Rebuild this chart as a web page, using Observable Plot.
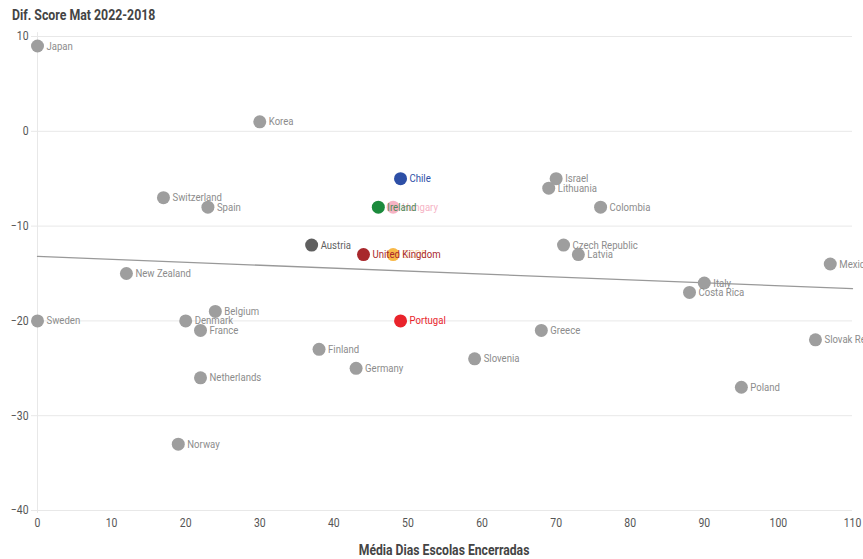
<!DOCTYPE html>
<html><head><meta charset="utf-8">
<script src="https://cdn.jsdelivr.net/npm/d3@7"></script>
<script src="https://cdn.jsdelivr.net/npm/@observablehq/plot@0.6"></script>
<style>
body{margin:0;background:#fff;width:863px;height:559px;overflow:hidden;font-family:"Roboto",sans-serif;position:relative;}
#title{position:absolute;left:12px;top:7px;font-weight:bold;font-size:14px;color:#444;transform:scaleX(0.88);transform-origin:0 0;white-space:nowrap;}
#xlabel{position:absolute;left:37px;width:815px;top:542px;text-align:center;font-weight:bold;font-size:14px;color:#444;}
#xlabel span{display:inline-block;transform:scaleX(0.87);}
#chart{position:absolute;left:0;top:0;}
</style></head><body>
<div id="chart"></div>
<div id="title">Dif. Score Mat 2022-2018</div>
<div id="xlabel"><span>Média Dias Escolas Encerradas</span></div>
<script>
const countries = ["Japan","Korea","Israel","Lithuania","Switzerland","Spain","Colombia","Czech Republic","Latvia","New Zealand","Mexico","Italy","Costa Rica","Sweden","Belgium","Denmark","France","Greece","Slovak Republic","Finland","Germany","Slovenia","Netherlands","Poland","Norway","Austria","Hungary","Ireland","OCDE","United Kingdom","Chile","Portugal"];
const days =      [0,30,70,69,17,23,76,71,73,12,107,90,88,0,24,20,22,68,105,38,43,59,22,95,19,37,48,46,48,44,49,49];
const scoreDiff = [9,1,-5,-6,-7,-8,-8,-12,-13,-15,-14,-16,-17,-20,-19,-20,-21,-21,-22,-23,-25,-24,-26,-27,-33,-12,-8,-8,-13,-13,-5,-20];
const xTicks = [0,10,20,30,40,50,60,70,80,90,100,110];
const yTicks = [10,0,-10,-20,-30,-40];
const trendX = [0,110];
const trendY = [-13.2,-16.6];

const highlight = {"Austria":"#5f5f5f","Hungary":"#f6b3c4","Ireland":"#1b8a3c","OCDE":"#f8b848","United Kingdom":"#a8282c","Chile":"#2d4fa6","Portugal":"#e9232b"};
const labelFill = {"OCDE":"rgba(240,160,40,0.45)","Ireland":"#4f8a5a"};
const gray = "#9e9e9e";

const data = countries.map((c,i)=>({c, x:days[i], y:scoreDiff[i]}));
const trend = trendX.map((x,i)=>({x, y:trendY[i]}));

const chart = Plot.plot({
  width:863, height:559,
  marginTop:36, marginBottom:49, marginLeft:37, marginRight:11,
  style:{fontFamily:"Roboto,sans-serif", background:"#fff"},
  x:{domain:[0,110]},
  y:{domain:[-40,10]},
  marks:[
    Plot.gridY(yTicks,{stroke:"#e8e8e8", strokeOpacity:1}),
    Plot.ruleX([0],{stroke:"#e8e8e8", y1:-40.3, y2:10.4}),
    Plot.axisY(yTicks,{tickSize:6, tickPadding:3, stroke:"#e8e8e8", fill:"#555", fontSize:12, label:null}),
    Plot.axisX(xTicks,{tickSize:0, tickPadding:8, fill:"#555", fontSize:12, label:null}),
    Plot.line(trend,{x:"x", y:"y", stroke:"#999", strokeWidth:1.3}),
    Plot.dot(data,{x:"x", y:"y", r:6.5, fill:d=>highlight[d.c]||gray, stroke:"none"}),
    Plot.text(data,{x:"x", y:"y", text:"c", dx:9, textAnchor:"start", fontSize:11,
      fill:d=>labelFill[d.c]||highlight[d.c]||"#8c8c8c"})
  ]
});
document.getElementById("chart").appendChild(chart);
// condense text glyphs horizontally (reference uses a condensed face)
chart.querySelectorAll("text").forEach(t=>{
  const nodes = t.querySelectorAll("tspan");
  const targets = nodes.length ? nodes : [t];
  targets.forEach(n=>{
    const L = n.getComputedTextLength();
    if (L>0){ n.setAttribute("textLength", (L*0.87).toFixed(2)); n.setAttribute("lengthAdjust","spacingAndGlyphs"); }
  });
});
</script>
</body></html>
